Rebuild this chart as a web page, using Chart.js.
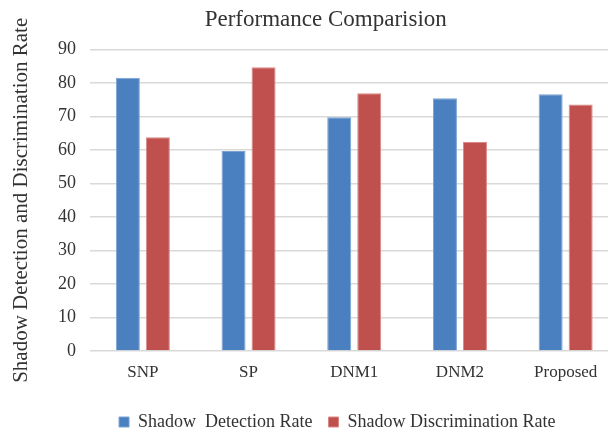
<!DOCTYPE html>
<html>
<head>
<meta charset="utf-8">
<script src="https://cdn.jsdelivr.net/npm/chart.js@4.4.1/dist/chart.umd.min.js"></script>
<style>
  html, body { margin: 0; padding: 0; background: #fff; overflow: hidden; }
  #wrap { width: 651px; height: 441px; }
</style>
</head>
<body>
<div id="wrap"><canvas id="chart" width="651" height="441"></canvas></div>
<script>
// Rates per method, in percent
const methods = ['SNP', 'SP', 'DNM1', 'DNM2', 'Proposed'];
const detectionRate = [81.6, 59.7, 69.8, 75.5, 76.7];
const discriminationRate = [63.8, 84.7, 77.0, 62.4, 73.6];
const seriesNames = ['Shadow  Detection Rate', 'Shadow Discrimination Rate'];
const chartTitle = 'Performance Comparision';
const yAxisTitle = 'Shadow Detection and Discrimination Rate';

const SERIF = "'Liberation Serif', 'Times New Roman', serif";
const TEXT = '#333333';

// nudges the title and legend rows sideways after layout
const blockShift = {
  id: 'blockShift',
  afterLayout(chart, args, opts) {
    const t = chart.titleBlock;
    if (t) { t.left += opts.titleDx; t.right += opts.titleDx; }
    const lg = chart.legend;
    if (lg) { lg.left += opts.legendDx; lg.right += opts.legendDx; }
  }
};

new Chart(document.getElementById('chart'), {
  type: 'bar',
  data: {
    labels: methods,
    datasets: [
      {
        label: seriesNames[0],
        data: detectionRate,
        backgroundColor: '#4a80c0',
        borderColor: '#7ba2d2',
        borderWidth: 1,
        barPercentage: 0.8,
        categoryPercentage: 0.568
      },
      {
        label: seriesNames[1],
        data: discriminationRate,
        backgroundColor: '#c0504d',
        borderColor: '#d98886',
        borderWidth: 1,
        barPercentage: 0.8,
        categoryPercentage: 0.568
      }
    ]
  },
  plugins: [blockShift],
  options: {
    responsive: false,
    animation: false,
    devicePixelRatio: 1,
    layout: { padding: { left: 0, right: 32.5, top: 0, bottom: 0 } },
    plugins: {
      blockShift: { titleDx: 16.5, legendDx: 28 },
      title: {
        display: true,
        text: chartTitle,
        color: TEXT,
        font: { family: SERIF, size: 23, weight: 'normal' },
        padding: { top: 6, bottom: 16 }
      },
      legend: {
        position: 'bottom',
        labels: {
          color: TEXT,
          font: { family: SERIF, size: 18 },
          boxWidth: 10,
          boxHeight: 10,
          padding: 16
        }
      },
      tooltip: { enabled: false }
    },
    scales: {
      x: {
        grid: { display: false, drawTicks: false },
        border: { display: false },
        ticks: {
          color: TEXT,
          font: { family: SERIF, size: 17 },
          padding: 11
        },
        afterFit(scale) { scale.height = 46; }
      },
      y: {
        min: 0,
        max: 90,
        grid: { color: '#d9d9d9', lineWidth: 1.5, drawTicks: false },
        border: { display: false },
        ticks: {
          stepSize: 10,
          color: TEXT,
          font: { family: SERIF, size: 18 },
          padding: 14
        },
        title: {
          display: true,
          text: yAxisTitle,
          color: TEXT,
          font: { family: SERIF, size: 21 },
          padding: { top: 9, bottom: 0 }
        },
        afterFit(scale) { scale.width = 90; }
      }
    }
  }
});
</script>
</body>
</html>
